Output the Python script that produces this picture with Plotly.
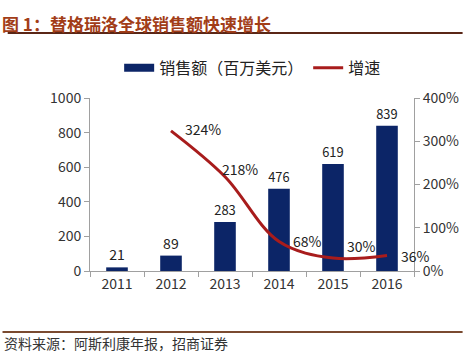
import plotly.graph_objects as go

years = [2011, 2012, 2013, 2014, 2015, 2016]
sales = [21, 89, 283, 476, 619, 839]
growth_years = [2012, 2013, 2014, 2015, 2016]
growth = [3.24, 2.18, 0.68, 0.30, 0.36]
growth_labels = ["324%", "218%", "68%", "30%", "36%"]

FONT = "Noto Sans CJK SC, Noto Sans, sans-serif"
NAVY = "#0c2567"
RED = "#a81c1c"

fig = go.Figure()
fig.add_trace(go.Bar(
    x=years, y=sales, name="销售额（百万美元）", showlegend=False,
    marker=dict(color=NAVY, line=dict(width=0)),
    width=0.4,
    text=[str(v) for v in sales], textposition="outside",
    textfont=dict(size=14, color="#222", family=FONT),
    cliponaxis=False,
))
# legend key for the bars (wide rectangle like the original)
fig.add_trace(go.Scatter(
    x=[None], y=[None], name="销售额（百万美元）", mode="lines",
    line=dict(color=NAVY, width=8),
))
fig.add_trace(go.Scatter(
    x=growth_years, y=growth, name="增速", yaxis="y2",
    mode="lines", line=dict(color=RED, width=3, shape="spline", smoothing=1.0),
))

# growth labels (pixel offsets from each point)
offsets = [(32, 2), (15, 8), (28, 1), (28, 12), (28, -1)]
for xv, yv, lab, (dx, dy) in zip(growth_years, growth, growth_labels, offsets):
    fig.add_annotation(x=xv, y=yv, xref="x", yref="y2", text=lab, showarrow=False,
                       xanchor="center", yanchor="middle",
                       xshift=dx, yshift=dy,
                       font=dict(size=14, color="#222", family=FONT))

fig.add_annotation(xref="paper", yref="paper", x=0, y=1.43, xshift=-90,
                   xanchor="left", yanchor="middle", showarrow=False,
                   text="<b>图 1：替格瑞洛全球销售额快速增长</b>",
                   font=dict(size=17, color="#a23d18", family=FONT))
fig.add_annotation(xref="paper", yref="paper", x=0, y=-0.415, xshift=-88,
                   xanchor="left", yanchor="middle", showarrow=False,
                   text="资料来源：阿斯利康年报，招商证券",
                   font=dict(size=14, color="#333", family=FONT))
fig.add_shape(type="line", xref="paper", yref="paper", x0=-0.254, x1=1.15,
              y0=1.376, y1=1.376, line=dict(color="#5a2616", width=2))
fig.add_shape(type="line", xref="paper", yref="paper", x0=-0.27, x1=1.15,
              y0=-0.352, y1=-0.352, line=dict(color="#7a4a30", width=2))

axis_common = dict(showgrid=False, zeroline=False, showline=True,
                   linecolor="#a0a0a0", linewidth=1, ticks="outside",
                   tickcolor="#a0a0a0", ticklen=5,
                   tickfont=dict(size=14, color="#333", family=FONT))

boundaries = [y - 0.5 for y in years] + [years[-1] + 0.5]

fig.update_layout(
    width=471, height=352,
    margin=dict(l=90, r=49, t=98, b=81),
    paper_bgcolor="white", plot_bgcolor="white",
    showlegend=True,
    legend=dict(orientation="h", x=0.09, y=1.175, xanchor="left", yanchor="middle",
                font=dict(size=16, color="#222", family=FONT),
                bgcolor="rgba(0,0,0,0)", itemwidth=30),
    xaxis=dict(showgrid=False, zeroline=False, showline=True,
               linecolor="#a0a0a0", linewidth=1, ticks="",
               tickfont=dict(size=14, color="#333", family=FONT),
               range=[years[0] - 0.5, years[-1] + 0.5], tickmode="array",
               tickvals=years, ticktext=[str(y) for y in years],
               minor=dict(tickmode="array", tickvals=boundaries, ticks="outside",
                          ticklen=5, tickcolor="#a0a0a0", showgrid=False)),
    yaxis=dict(**axis_common, range=[0, 1000], dtick=200),
    yaxis2=dict(**axis_common, range=[0, 4], dtick=1, tickformat=".0%",
                overlaying="y", side="right"),
)

fig.write_html("out.html")
